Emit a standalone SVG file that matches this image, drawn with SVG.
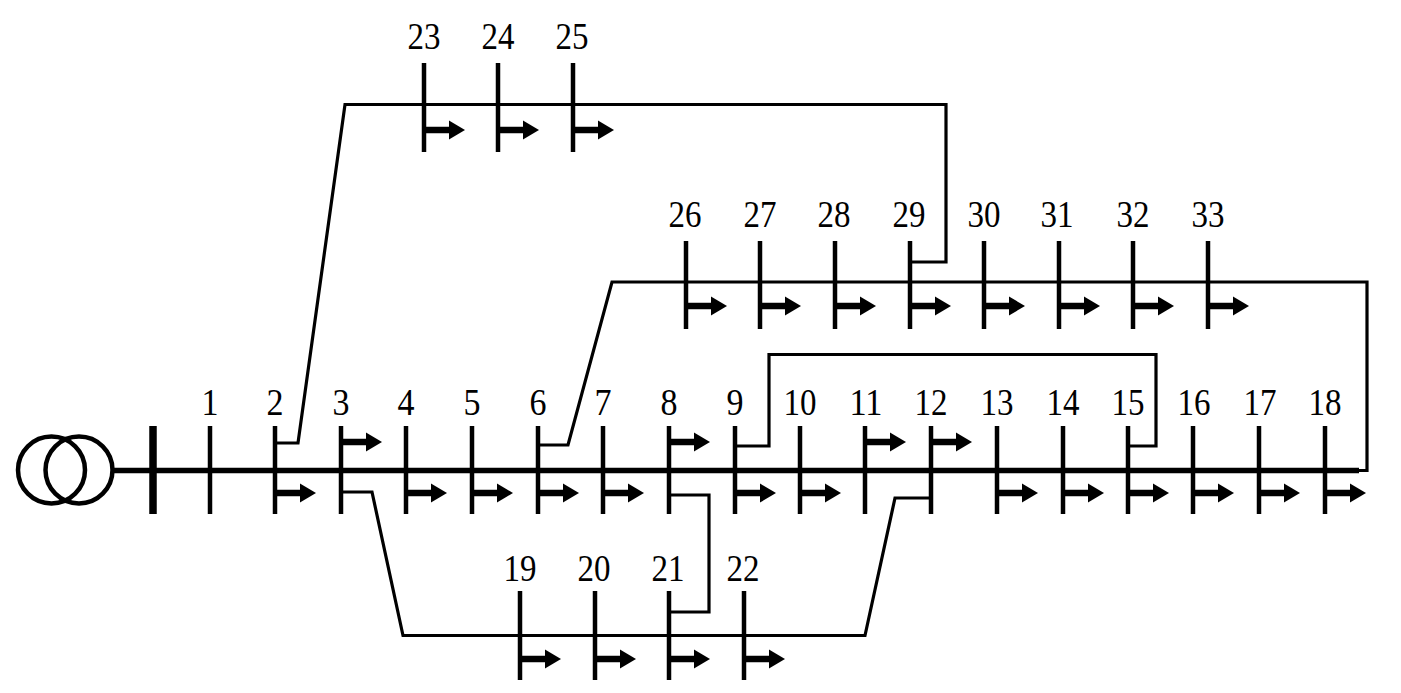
<svg xmlns="http://www.w3.org/2000/svg" xmlns:xlink="http://www.w3.org/1999/xlink" width="1401" height="693" viewBox="0 0 1401 693">
<style>
.bus{stroke:#000;stroke-width:4.5;fill:none}
.wire{stroke:#000;stroke-width:3.2;fill:none;stroke-linejoin:miter}
.main{stroke:#000;stroke-width:5.5;fill:none}
.t{font-family:"Liberation Serif","Times New Roman",serif;font-size:37px;fill:#000;text-anchor:middle}
</style>
<defs>
<g id="load"><path d="M0 0H26" stroke="#000" stroke-width="6.500" fill="none"/><path d="M25 -9.500L41 0L25 9.500Z" fill="#000"/></g>
</defs>
<rect width="1401" height="693" fill="#fff"/>
<g id="connectors">
<path class="main" d="M113 470.5H1359"/>
<path class="wire" d="M275 443H298L345 104.500H946V262H910"/>
<path class="wire" d="M538 445H568L612 282H1367V470.500H1358"/>
<path class="wire" d="M735 446H769V354.500H1156V446H1128"/>
<path class="wire" d="M341 492H372L403 635.500H865L895 498H931"/>
<path class="wire" d="M669 495H709V612H669"/>
</g>
<g id="source"><circle cx="51.500" cy="470" r="33.500" fill="none" stroke="#000" stroke-width="4.500"/><circle cx="79" cy="470" r="33.500" fill="none" stroke="#000" stroke-width="4.500"/></g>
<g id="slack"><path d="M153 426V514" stroke="#000" stroke-width="7.500"/></g>
<g id="bus1"><path class="bus" d="M210 426V514"/><text class="t" x="210" y="415" textLength="17" lengthAdjust="spacingAndGlyphs">1</text></g>
<g id="bus2"><path class="bus" d="M275 426V514"/><use href="#load" x="275" y="493"/><text class="t" x="275" y="415" textLength="17" lengthAdjust="spacingAndGlyphs">2</text></g>
<g id="bus3"><path class="bus" d="M341 426V514"/><use href="#load" x="341" y="442"/><text class="t" x="341" y="415" textLength="17" lengthAdjust="spacingAndGlyphs">3</text></g>
<g id="bus4"><path class="bus" d="M406 426V514"/><use href="#load" x="406" y="493"/><text class="t" x="406" y="415" textLength="17" lengthAdjust="spacingAndGlyphs">4</text></g>
<g id="bus5"><path class="bus" d="M472 426V514"/><use href="#load" x="472" y="493"/><text class="t" x="472" y="415" textLength="17" lengthAdjust="spacingAndGlyphs">5</text></g>
<g id="bus6"><path class="bus" d="M538 426V514"/><use href="#load" x="538" y="493"/><text class="t" x="538" y="415" textLength="17" lengthAdjust="spacingAndGlyphs">6</text></g>
<g id="bus7"><path class="bus" d="M603 426V514"/><use href="#load" x="603" y="493"/><text class="t" x="603" y="415" textLength="17" lengthAdjust="spacingAndGlyphs">7</text></g>
<g id="bus8"><path class="bus" d="M669 426V514"/><use href="#load" x="669" y="442"/><text class="t" x="669" y="415" textLength="17" lengthAdjust="spacingAndGlyphs">8</text></g>
<g id="bus9"><path class="bus" d="M735 426V514"/><use href="#load" x="735" y="493"/><text class="t" x="735" y="415" textLength="17" lengthAdjust="spacingAndGlyphs">9</text></g>
<g id="bus10"><path class="bus" d="M800 426V514"/><use href="#load" x="800" y="493"/><text class="t" x="800" y="415" textLength="33" lengthAdjust="spacingAndGlyphs">10</text></g>
<g id="bus11"><path class="bus" d="M865 426V514"/><use href="#load" x="865" y="442"/><text class="t" x="866" y="415" textLength="33" lengthAdjust="spacingAndGlyphs">11</text></g>
<g id="bus12"><path class="bus" d="M931 426V514"/><use href="#load" x="931" y="442"/><text class="t" x="931" y="415" textLength="33" lengthAdjust="spacingAndGlyphs">12</text></g>
<g id="bus13"><path class="bus" d="M997 426V514"/><use href="#load" x="997" y="493"/><text class="t" x="997" y="415" textLength="33" lengthAdjust="spacingAndGlyphs">13</text></g>
<g id="bus14"><path class="bus" d="M1063 426V514"/><use href="#load" x="1063" y="493"/><text class="t" x="1063" y="415" textLength="33" lengthAdjust="spacingAndGlyphs">14</text></g>
<g id="bus15"><path class="bus" d="M1128 426V514"/><use href="#load" x="1128" y="493"/><text class="t" x="1128" y="415" textLength="33" lengthAdjust="spacingAndGlyphs">15</text></g>
<g id="bus16"><path class="bus" d="M1193 426V514"/><use href="#load" x="1193" y="493"/><text class="t" x="1194" y="415" textLength="33" lengthAdjust="spacingAndGlyphs">16</text></g>
<g id="bus17"><path class="bus" d="M1259 426V514"/><use href="#load" x="1259" y="493"/><text class="t" x="1260" y="415" textLength="33" lengthAdjust="spacingAndGlyphs">17</text></g>
<g id="bus18"><path class="bus" d="M1325 426V514"/><use href="#load" x="1325" y="493"/><text class="t" x="1325" y="415" textLength="33" lengthAdjust="spacingAndGlyphs">18</text></g>
<g id="bus19"><path class="bus" d="M520 591V680"/><use href="#load" x="520" y="659"/><text class="t" x="520" y="581" textLength="33" lengthAdjust="spacingAndGlyphs">19</text></g>
<g id="bus20"><path class="bus" d="M595 591V680"/><use href="#load" x="595" y="659"/><text class="t" x="594" y="581" textLength="33" lengthAdjust="spacingAndGlyphs">20</text></g>
<g id="bus21"><path class="bus" d="M669 591V680"/><use href="#load" x="669" y="659"/><text class="t" x="668" y="581" textLength="33" lengthAdjust="spacingAndGlyphs">21</text></g>
<g id="bus22"><path class="bus" d="M744 591V680"/><use href="#load" x="744" y="659"/><text class="t" x="743" y="581" textLength="33" lengthAdjust="spacingAndGlyphs">22</text></g>
<g id="bus23"><path class="bus" d="M424 63V152"/><use href="#load" x="424" y="130"/><text class="t" x="424" y="49" textLength="33" lengthAdjust="spacingAndGlyphs">23</text></g>
<g id="bus24"><path class="bus" d="M498 63V152"/><use href="#load" x="498" y="130"/><text class="t" x="498" y="49" textLength="33" lengthAdjust="spacingAndGlyphs">24</text></g>
<g id="bus25"><path class="bus" d="M573 63V152"/><use href="#load" x="573" y="130"/><text class="t" x="572" y="49" textLength="33" lengthAdjust="spacingAndGlyphs">25</text></g>
<g id="bus26"><path class="bus" d="M686 241V329"/><use href="#load" x="686" y="306"/><text class="t" x="685" y="227" textLength="33" lengthAdjust="spacingAndGlyphs">26</text></g>
<g id="bus27"><path class="bus" d="M760 241V329"/><use href="#load" x="760" y="306"/><text class="t" x="760" y="227" textLength="33" lengthAdjust="spacingAndGlyphs">27</text></g>
<g id="bus28"><path class="bus" d="M835 241V329"/><use href="#load" x="835" y="306"/><text class="t" x="834" y="227" textLength="33" lengthAdjust="spacingAndGlyphs">28</text></g>
<g id="bus29"><path class="bus" d="M910 241V329"/><use href="#load" x="910" y="306"/><text class="t" x="909" y="227" textLength="33" lengthAdjust="spacingAndGlyphs">29</text></g>
<g id="bus30"><path class="bus" d="M984 241V329"/><use href="#load" x="984" y="306"/><text class="t" x="984" y="227" textLength="33" lengthAdjust="spacingAndGlyphs">30</text></g>
<g id="bus31"><path class="bus" d="M1059 241V329"/><use href="#load" x="1059" y="306"/><text class="t" x="1057" y="227" textLength="33" lengthAdjust="spacingAndGlyphs">31</text></g>
<g id="bus32"><path class="bus" d="M1133 241V329"/><use href="#load" x="1133" y="306"/><text class="t" x="1133" y="227" textLength="33" lengthAdjust="spacingAndGlyphs">32</text></g>
<g id="bus33"><path class="bus" d="M1208 241V329"/><use href="#load" x="1208" y="306"/><text class="t" x="1208" y="227" textLength="33" lengthAdjust="spacingAndGlyphs">33</text></g>
</svg>
